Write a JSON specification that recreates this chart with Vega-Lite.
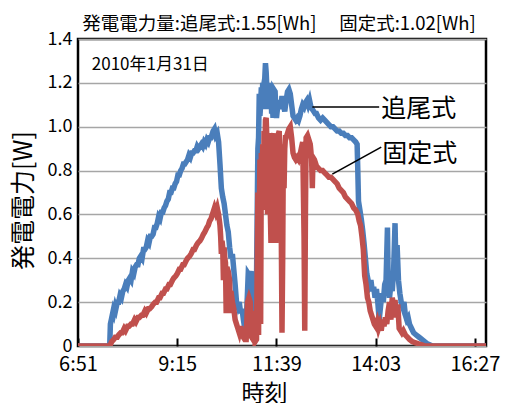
{
  "$schema": "https://vega.github.io/schema/vega-lite/v6.json",
  "width": 408,
  "height": 307,
  "autosize": {"type": "none"},
  "padding": {"left": 78, "top": 39, "right": 22, "bottom": 57},
  "background": "white",
  "config": {
    "font": "Noto Sans CJK JP",
    "view": {"stroke": "#000000", "strokeWidth": 2.5},
    "axis": {"labelColor": "#000000", "titleColor": "#000000", "titleFontWeight": "normal"}
  },
  "title": {
    "text": "発電電力量:追尾式:1.55[Wh]　  固定式:1.02[Wh]",
    "fontSize": 18.5,
    "fontWeight": "normal",
    "color": "#000000",
    "anchor": "middle",
    "offset": -3,
    "dx": -3
  },
  "datasets": {
    "tracking": [
      {"t": 411, "w": 0}, {"t": 457, "w": 0}, {"t": 458, "w": 0.1}, {"t": 460, "w": 0.13}, {"t": 462, "w": 0.16},
      {"t": 463, "w": 0.15}, {"t": 465, "w": 0.18}, {"t": 466, "w": 0.17}, {"t": 468, "w": 0.2}, {"t": 470, "w": 0.2},
      {"t": 472, "w": 0.23}, {"t": 474, "w": 0.22}, {"t": 476, "w": 0.25}, {"t": 478, "w": 0.26}, {"t": 480, "w": 0.28},
      {"t": 482, "w": 0.27}, {"t": 484, "w": 0.3}, {"t": 486, "w": 0.31}, {"t": 488, "w": 0.3}, {"t": 490, "w": 0.34},
      {"t": 492, "w": 0.33}, {"t": 494, "w": 0.36}, {"t": 496, "w": 0.37}, {"t": 498, "w": 0.37}, {"t": 500, "w": 0.4},
      {"t": 502, "w": 0.41}, {"t": 504, "w": 0.4}, {"t": 506, "w": 0.44}, {"t": 508, "w": 0.44}, {"t": 510, "w": 0.45},
      {"t": 512, "w": 0.48}, {"t": 514, "w": 0.47}, {"t": 516, "w": 0.5}, {"t": 518, "w": 0.5}, {"t": 520, "w": 0.51},
      {"t": 522, "w": 0.54}, {"t": 524, "w": 0.54}, {"t": 526, "w": 0.56}, {"t": 528, "w": 0.59}, {"t": 530, "w": 0.58},
      {"t": 532, "w": 0.61}, {"t": 534, "w": 0.61}, {"t": 536, "w": 0.63}, {"t": 538, "w": 0.64}, {"t": 540, "w": 0.66},
      {"t": 542, "w": 0.67}, {"t": 544, "w": 0.7}, {"t": 546, "w": 0.7}, {"t": 548, "w": 0.72}, {"t": 550, "w": 0.72},
      {"t": 552, "w": 0.74}, {"t": 554, "w": 0.75}, {"t": 556, "w": 0.78}, {"t": 558, "w": 0.78}, {"t": 560, "w": 0.8},
      {"t": 562, "w": 0.81}, {"t": 564, "w": 0.83}, {"t": 566, "w": 0.83}, {"t": 568, "w": 0.84}, {"t": 570, "w": 0.85},
      {"t": 572, "w": 0.87}, {"t": 574, "w": 0.86}, {"t": 576, "w": 0.88}, {"t": 578, "w": 0.88}, {"t": 580, "w": 0.89},
      {"t": 582, "w": 0.89}, {"t": 584, "w": 0.91}, {"t": 586, "w": 0.9}, {"t": 588, "w": 0.91}, {"t": 590, "w": 0.92},
      {"t": 592, "w": 0.91}, {"t": 594, "w": 0.93}, {"t": 596, "w": 0.92}, {"t": 598, "w": 0.94}, {"t": 600, "w": 0.93},
      {"t": 602, "w": 0.95}, {"t": 604, "w": 0.95}, {"t": 605, "w": 0.96},
      {"t": 607, "w": 0.98}, {"t": 609, "w": 0.99}, {"t": 611, "w": 0.96}, {"t": 613, "w": 0.97}, {"t": 615, "w": 0.93},
      {"t": 617, "w": 0.83}, {"t": 619, "w": 0.72}, {"t": 621, "w": 0.68}, {"t": 623, "w": 0.65}, {"t": 625, "w": 0.6},
      {"t": 627, "w": 0.55}, {"t": 629, "w": 0.52}, {"t": 631, "w": 0.45}, {"t": 633, "w": 0.4}, {"t": 635, "w": 0.42},
      {"t": 637, "w": 0.35}, {"t": 639, "w": 0.28}, {"t": 641, "w": 0.2}, {"t": 643, "w": 0.18}, {"t": 645, "w": 0.2},
      {"t": 647, "w": 0.15}, {"t": 649, "w": 0.17}, {"t": 651, "w": 0.12}, {"t": 653, "w": 0.08}, {"t": 655, "w": 0.1},
      {"t": 657, "w": 0.25}, {"t": 658, "w": 0.33}, {"t": 660, "w": 0.32}, {"t": 662, "w": 0.34}, {"t": 664, "w": 0.3},
      {"t": 665, "w": 0.12}, {"t": 667, "w": 0.08}, {"t": 669, "w": 0.06}, {"t": 670, "w": 0.3}, {"t": 671, "w": 0.6},
      {"t": 672, "w": 0.9}, {"t": 673, "w": 0.95}, {"t": 674, "w": 1.15}, {"t": 675, "w": 1.05}, {"t": 676, "w": 1.1},
      {"t": 677, "w": 1.18}, {"t": 678, "w": 1.08}, {"t": 679, "w": 1.2}, {"t": 680, "w": 1.1}, {"t": 681, "w": 1.2},
      {"t": 682, "w": 1.22}, {"t": 683, "w": 1.29}, {"t": 684, "w": 1.25}, {"t": 685, "w": 1.18}, {"t": 686, "w": 1.08},
      {"t": 687, "w": 1.16}, {"t": 688, "w": 1.1}, {"t": 689, "w": 1.2}, {"t": 690, "w": 1.12}, {"t": 691, "w": 1.15},
      {"t": 692, "w": 1.06}, {"t": 693, "w": 1.1}, {"t": 694, "w": 1.04}, {"t": 695, "w": 1.17}, {"t": 697, "w": 1.16},
      {"t": 698, "w": 1.08}, {"t": 699, "w": 1.04}, {"t": 701, "w": 1.1}, {"t": 703, "w": 1.12}, {"t": 705, "w": 1.08},
      {"t": 707, "w": 1.14}, {"t": 709, "w": 1.1}, {"t": 711, "w": 1.07}, {"t": 713, "w": 1.12}, {"t": 715, "w": 1.16},
      {"t": 717, "w": 1.17}, {"t": 719, "w": 1.15}, {"t": 721, "w": 1.1}, {"t": 723, "w": 1.05}, {"t": 725, "w": 1.04},
      {"t": 727, "w": 1.03}, {"t": 729, "w": 1.04}, {"t": 731, "w": 1.03}, {"t": 733, "w": 1.05}, {"t": 735, "w": 1.08},
      {"t": 737, "w": 1.1}, {"t": 739, "w": 1.09}, {"t": 741, "w": 1.11}, {"t": 743, "w": 1.12}, {"t": 745, "w": 1.1},
      {"t": 747, "w": 1.12}, {"t": 749, "w": 1.09}, {"t": 751, "w": 1.08}, {"t": 753, "w": 1.07}, {"t": 755, "w": 1.06},
      {"t": 757, "w": 1.06}, {"t": 760, "w": 1.04}, {"t": 763, "w": 1.03}, {"t": 766, "w": 1.04}, {"t": 769, "w": 1.03},
      {"t": 772, "w": 1.02}, {"t": 775, "w": 1.01}, {"t": 778, "w": 1.0}, {"t": 781, "w": 1.0}, {"t": 784, "w": 0.99},
      {"t": 787, "w": 0.98}, {"t": 790, "w": 0.98}, {"t": 793, "w": 0.97}, {"t": 796, "w": 0.97}, {"t": 799, "w": 0.96},
      {"t": 802, "w": 0.96}, {"t": 805, "w": 0.95}, {"t": 808, "w": 0.95}, {"t": 811, "w": 0.94}, {"t": 814, "w": 0.93},
      {"t": 816, "w": 0.92}, {"t": 817, "w": 0.8}, {"t": 818, "w": 0.66}, {"t": 820, "w": 0.62}, {"t": 822, "w": 0.58},
      {"t": 824, "w": 0.53}, {"t": 826, "w": 0.47}, {"t": 828, "w": 0.4}, {"t": 830, "w": 0.33}, {"t": 832, "w": 0.3},
      {"t": 834, "w": 0.28}, {"t": 836, "w": 0.3}, {"t": 838, "w": 0.25}, {"t": 840, "w": 0.27}, {"t": 842, "w": 0.22},
      {"t": 844, "w": 0.26}, {"t": 846, "w": 0.2}, {"t": 848, "w": 0.12}, {"t": 850, "w": 0.18}, {"t": 852, "w": 0.24},
      {"t": 854, "w": 0.2}, {"t": 856, "w": 0.28}, {"t": 858, "w": 0.3}, {"t": 860, "w": 0.54}, {"t": 861, "w": 0.3},
      {"t": 863, "w": 0.22}, {"t": 865, "w": 0.28}, {"t": 867, "w": 0.25}, {"t": 869, "w": 0.35}, {"t": 871, "w": 0.56},
      {"t": 872, "w": 0.4}, {"t": 874, "w": 0.46}, {"t": 876, "w": 0.3}, {"t": 878, "w": 0.24}, {"t": 880, "w": 0.2},
      {"t": 882, "w": 0.18}, {"t": 884, "w": 0.2}, {"t": 886, "w": 0.14}, {"t": 888, "w": 0.12}, {"t": 890, "w": 0.13},
      {"t": 892, "w": 0.1}, {"t": 895, "w": 0.08}, {"t": 898, "w": 0.06}, {"t": 902, "w": 0.05}, {"t": 906, "w": 0.04},
      {"t": 910, "w": 0.03}, {"t": 914, "w": 0.02}, {"t": 918, "w": 0.01}, {"t": 922, "w": 0.005}, {"t": 925, "w": 0},
      {"t": 1003, "w": 0}
    ],
    "fixed": [
      {"t": 411, "w": 0}, {"t": 457, "w": 0}, {"t": 460, "w": 0.02}, {"t": 463, "w": 0.03}, {"t": 465, "w": 0.04},
      {"t": 468, "w": 0.04}, {"t": 470, "w": 0.05}, {"t": 473, "w": 0.06}, {"t": 475, "w": 0.06}, {"t": 478, "w": 0.08},
      {"t": 480, "w": 0.07}, {"t": 483, "w": 0.09}, {"t": 485, "w": 0.09}, {"t": 488, "w": 0.1}, {"t": 490, "w": 0.1},
      {"t": 493, "w": 0.12}, {"t": 495, "w": 0.11}, {"t": 498, "w": 0.13}, {"t": 500, "w": 0.13}, {"t": 503, "w": 0.14},
      {"t": 505, "w": 0.14}, {"t": 508, "w": 0.16}, {"t": 510, "w": 0.15}, {"t": 513, "w": 0.17}, {"t": 515, "w": 0.17},
      {"t": 518, "w": 0.18}, {"t": 520, "w": 0.19}, {"t": 523, "w": 0.2}, {"t": 525, "w": 0.2}, {"t": 528, "w": 0.22},
      {"t": 530, "w": 0.22}, {"t": 533, "w": 0.24}, {"t": 535, "w": 0.24}, {"t": 538, "w": 0.26}, {"t": 540, "w": 0.26},
      {"t": 543, "w": 0.28}, {"t": 545, "w": 0.28}, {"t": 548, "w": 0.3}, {"t": 550, "w": 0.31}, {"t": 553, "w": 0.32},
      {"t": 555, "w": 0.33}, {"t": 558, "w": 0.35}, {"t": 560, "w": 0.35}, {"t": 563, "w": 0.37}, {"t": 565, "w": 0.37},
      {"t": 568, "w": 0.39}, {"t": 570, "w": 0.4}, {"t": 573, "w": 0.41}, {"t": 575, "w": 0.42}, {"t": 578, "w": 0.44},
      {"t": 580, "w": 0.44}, {"t": 583, "w": 0.46}, {"t": 585, "w": 0.47}, {"t": 588, "w": 0.48}, {"t": 590, "w": 0.49},
      {"t": 593, "w": 0.51}, {"t": 595, "w": 0.52}, {"t": 598, "w": 0.54}, {"t": 600, "w": 0.55}, {"t": 602, "w": 0.57},
      {"t": 604, "w": 0.58}, {"t": 606, "w": 0.6}, {"t": 607, "w": 0.61}, {"t": 609, "w": 0.63}, {"t": 611, "w": 0.61},
      {"t": 613, "w": 0.63}, {"t": 615, "w": 0.6}, {"t": 617, "w": 0.55}, {"t": 618, "w": 0.5}, {"t": 619, "w": 0.42},
      {"t": 620, "w": 0.48}, {"t": 621, "w": 0.45}, {"t": 622, "w": 0.3}, {"t": 623, "w": 0.45}, {"t": 624, "w": 0.4},
      {"t": 625, "w": 0.38}, {"t": 626, "w": 0.15}, {"t": 627, "w": 0.36}, {"t": 629, "w": 0.34}, {"t": 631, "w": 0.3},
      {"t": 632, "w": 0.15}, {"t": 633, "w": 0.25}, {"t": 635, "w": 0.2}, {"t": 637, "w": 0.17}, {"t": 639, "w": 0.12},
      {"t": 641, "w": 0.1}, {"t": 643, "w": 0.08}, {"t": 645, "w": 0.06}, {"t": 647, "w": 0.09}, {"t": 649, "w": 0.05},
      {"t": 651, "w": 0.04}, {"t": 653, "w": 0.03}, {"t": 655, "w": 0.03}, {"t": 657, "w": 0.2}, {"t": 659, "w": 0.22},
      {"t": 661, "w": 0.2}, {"t": 663, "w": 0.04}, {"t": 665, "w": 0.03}, {"t": 667, "w": 0.16}, {"t": 668, "w": 0.02},
      {"t": 670, "w": 0.03}, {"t": 671, "w": 0.35}, {"t": 672, "w": 0.7}, {"t": 673, "w": 0.05}, {"t": 674, "w": 0.6},
      {"t": 675, "w": 0.85}, {"t": 676, "w": 0.1}, {"t": 677, "w": 0.88}, {"t": 678, "w": 0.62}, {"t": 679, "w": 0.92},
      {"t": 680, "w": 0.7}, {"t": 681, "w": 0.98}, {"t": 682, "w": 0.85}, {"t": 683, "w": 1.03}, {"t": 684, "w": 1.04},
      {"t": 685, "w": 0.95}, {"t": 686, "w": 0.6}, {"t": 687, "w": 0.92}, {"t": 688, "w": 0.96}, {"t": 689, "w": 0.97},
      {"t": 690, "w": 0.62}, {"t": 691, "w": 0.47}, {"t": 692, "w": 0.9}, {"t": 693, "w": 0.65}, {"t": 694, "w": 0.95},
      {"t": 695, "w": 0.97}, {"t": 696, "w": 0.88}, {"t": 697, "w": 0.7}, {"t": 698, "w": 0.47}, {"t": 699, "w": 0.9},
      {"t": 700, "w": 0.66}, {"t": 701, "w": 0.93}, {"t": 702, "w": 0.97}, {"t": 703, "w": 0.98}, {"t": 704, "w": 0.75},
      {"t": 705, "w": 0.9}, {"t": 706, "w": 0.5}, {"t": 707, "w": 0.06}, {"t": 708, "w": 0.4}, {"t": 709, "w": 0.92},
      {"t": 710, "w": 0.72}, {"t": 711, "w": 0.9}, {"t": 712, "w": 0.95}, {"t": 713, "w": 0.95}, {"t": 715, "w": 0.97},
      {"t": 717, "w": 0.99}, {"t": 719, "w": 1.0}, {"t": 721, "w": 0.95},
      {"t": 723, "w": 0.88}, {"t": 725, "w": 0.86}, {"t": 727, "w": 0.85}, {"t": 729, "w": 0.86}, {"t": 731, "w": 0.85},
      {"t": 733, "w": 0.87}, {"t": 735, "w": 0.9}, {"t": 737, "w": 0.93}, {"t": 739, "w": 0.5}, {"t": 740, "w": 0.07},
      {"t": 741, "w": 0.6}, {"t": 742, "w": 0.95}, {"t": 744, "w": 0.96}, {"t": 746, "w": 0.94}, {"t": 748, "w": 0.92},
      {"t": 750, "w": 0.85}, {"t": 751, "w": 0.72}, {"t": 752, "w": 0.86}, {"t": 754, "w": 0.85}, {"t": 757, "w": 0.82},
      {"t": 760, "w": 0.81}, {"t": 763, "w": 0.8}, {"t": 766, "w": 0.8}, {"t": 769, "w": 0.79}, {"t": 772, "w": 0.78},
      {"t": 775, "w": 0.77}, {"t": 778, "w": 0.77}, {"t": 781, "w": 0.76}, {"t": 784, "w": 0.75}, {"t": 787, "w": 0.74},
      {"t": 790, "w": 0.72}, {"t": 793, "w": 0.71}, {"t": 796, "w": 0.7}, {"t": 799, "w": 0.68}, {"t": 802, "w": 0.67},
      {"t": 805, "w": 0.66}, {"t": 808, "w": 0.65}, {"t": 811, "w": 0.63}, {"t": 814, "w": 0.62}, {"t": 817, "w": 0.6},
      {"t": 819, "w": 0.57}, {"t": 821, "w": 0.55}, {"t": 823, "w": 0.5}, {"t": 825, "w": 0.44}, {"t": 827, "w": 0.32},
      {"t": 829, "w": 0.28}, {"t": 831, "w": 0.22}, {"t": 833, "w": 0.2}, {"t": 835, "w": 0.16}, {"t": 837, "w": 0.14},
      {"t": 839, "w": 0.12}, {"t": 841, "w": 0.1}, {"t": 843, "w": 0.09}, {"t": 845, "w": 0.11}, {"t": 847, "w": 0.08},
      {"t": 849, "w": 0.1}, {"t": 851, "w": 0.07}, {"t": 853, "w": 0.12}, {"t": 855, "w": 0.09}, {"t": 857, "w": 0.13},
      {"t": 859, "w": 0.1}, {"t": 861, "w": 0.16}, {"t": 863, "w": 0.2}, {"t": 865, "w": 0.12}, {"t": 867, "w": 0.22},
      {"t": 869, "w": 0.18}, {"t": 871, "w": 0.21}, {"t": 873, "w": 0.13}, {"t": 875, "w": 0.19}, {"t": 877, "w": 0.08},
      {"t": 879, "w": 0.07}, {"t": 881, "w": 0.06}, {"t": 883, "w": 0.07}, {"t": 886, "w": 0.05}, {"t": 889, "w": 0.04},
      {"t": 892, "w": 0.03}, {"t": 896, "w": 0.02}, {"t": 900, "w": 0.015}, {"t": 905, "w": 0.01}, {"t": 910, "w": 0.005},
      {"t": 915, "w": 0}, {"t": 1003, "w": 0}
    ],
    "leaders": [
      {"t": 751, "w": 1.09, "t2": 848, "w2": 1.09},
      {"t": 780, "w": 0.784, "t2": 851, "w2": 0.907}
    ],
    "seriesNames": [
      {"t": 851, "w": 1.081, "label": "追尾式"},
      {"t": 852.4, "w": 0.876, "label": "固定式"}
    ],
    "dateNote": [
      {"t": 431, "w": 1.281, "label": "2010年1月31日"}
    ]
  },
  "encoding": {
    "x": {
      "field": "t",
      "type": "quantitative",
      "scale": {"domain": [411, 1003], "nice": false, "zero": false},
      "axis": {
        "values": [411, 555, 699, 843, 987],
        "labelExpr": "floor(datum.value / 60) + ':' + (datum.value % 60 < 10 ? '0' : '') + (datum.value % 60)",
        "grid": false,
        "domain": false,
        "ticks": true,
        "tickSize": -8,
        "tickWidth": 2,
        "tickColor": "#000000",
        "labelFontSize": 20,
        "labelPadding": 16,
        "labelFlush": false,
        "title": "時刻",
        "titleFontSize": 23,
        "titleX": 186,
        "titleY": 47,
        "titleBaseline": "middle"
      }
    },
    "y": {
      "field": "w",
      "type": "quantitative",
      "scale": {"domain": [0, 1.4], "nice": false},
      "axis": {
        "values": [0, 0.2, 0.4, 0.6, 0.8, 1.0, 1.2, 1.4],
        "labelExpr": "datum.value == 0 ? '0' : format(datum.value, '.1f')",
        "grid": true,
        "gridColor": "#a6a6a6",
        "gridWidth": 1.5,
        "domain": false,
        "ticks": false,
        "labelFontSize": 18,
        "labelPadding": 6,
        "labelFlush": false,
        "title": "発電電力[W]",
        "titleFontSize": 25,
        "titleX": -55,
        "titleY": 161,
        "titleBaseline": "middle",
        "titleAlign": "center"
      }
    }
  },
  "layer": [
    {
      "data": {"name": "tracking"},
      "mark": {"type": "line", "color": "#4a7ebb", "strokeWidth": 5.5, "clip": true}
    },
    {
      "data": {"name": "fixed"},
      "mark": {"type": "line", "color": "#c0504d", "strokeWidth": 5.5, "clip": true}
    },
    {
      "data": {"name": "leaders"},
      "mark": {"type": "rule", "color": "#000000", "strokeWidth": 1.6},
      "encoding": {
        "x2": {"field": "t2"},
        "y2": {"field": "w2"}
      }
    },
    {
      "data": {"name": "seriesNames"},
      "mark": {"type": "text", "fontSize": 25, "align": "left", "baseline": "middle", "color": "#000000"},
      "encoding": {"text": {"field": "label"}}
    },
    {
      "data": {"name": "dateNote"},
      "mark": {"type": "text", "fontSize": 17, "align": "left", "baseline": "middle", "color": "#000000"},
      "encoding": {"text": {"field": "label"}}
    }
  ]
}
